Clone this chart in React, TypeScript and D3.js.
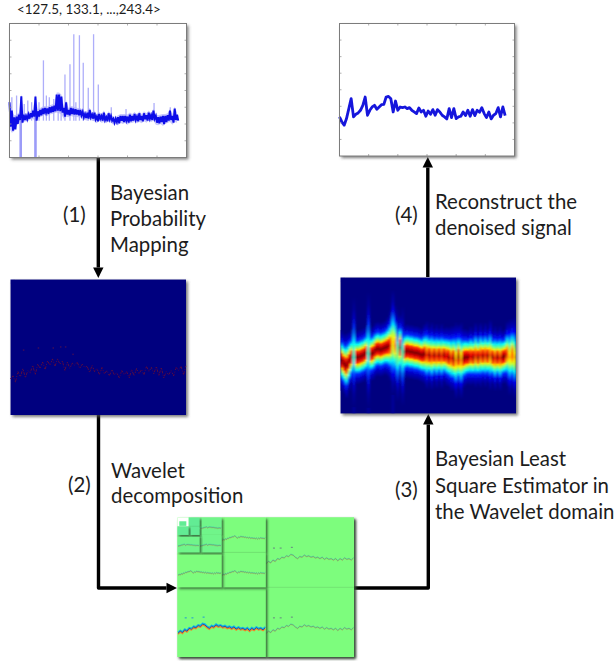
import React from 'react';
import * as d3 from 'd3';

// signal values, one every 8 samples
const sampleStep = 8;
const denoised = [118,103,93,113,143,173,118,126,130,138,153,178,123,138,148,153,141,148,155,156,178,180,173,133,166,138,148,146,148,143,146,138,133,128,145,133,138,120,136,126,140,123,140,133,123,118,112,143,116,143,113,118,120,133,122,138,120,140,122,138,132,146,128,116,133,112,123,128,146,118,148,122];
const noisyHigh = [165,140,120,122,128,183,128,124,128,132,140,182,138,142,146,148,146,150,152,155,188,188,182,148,165,142,148,146,144,142,142,136,130,134,142,128,134,122,130,124,134,120,132,124,116,116,120,124,124,124,122,128,124,130,122,132,124,132,126,134,126,140,124,120,122,124,124,126,140,124,146,128];
const noisyLow = [92,80,84,100,112,104,112,114,116,120,122,110,122,126,130,134,130,134,136,138,140,138,134,122,128,126,130,128,128,126,126,120,118,116,120,116,114,108,116,110,112,108,114,110,104,106,102,110,106,110,104,108,110,112,108,112,108,114,110,116,112,116,104,102,106,100,106,110,112,104,112,110];

// outliers of the raw signal: sample, top value
const spikeSamples = [8,24,50,62,75,100,115,125,135,150,165,175,188,205,218,225,237,250,267,285,301,345,395,490,545];
const spikeTops = [180,185,160,170,165,165,290,185,180,175,185,170,248,278,368,165,365,283,208,368,218,150,145,163,150];
const dropSamples = [38,88];
const dropBottoms = [0,0];

const sampleTicks = [0,100,200,300,400,500,600];
const valueTicks = [0,50,100,150,200,250,300,350,400];

// stft style map, 128 bins, one column per signal value
const heatCenter = [50,47,45,49,53,58,53,53,54,55,57,60,56,57,60,61,60,61,62,63,64,67,64,55,62,54,58,59,58,58,57,57,56,55,56,55,55,54,55,54,55,54,55,54,53,52,52,50,53,50,52,53,53,54,53,55,53,55,54,55,54,55,53,52,53,52,53,54,56,53,56,53];
const heatSpread = [1.1,1.1,1.2,1.1,1,2,1,1,1,1,1,2.1,1,1,1,1,1,1,1,1.1,1.3,1.9,1.5,1.7,1.2,1.8,1,1,1,1,1,1,1,1,1.1,1.25,1.05,1.25,1,1.2,1,1.2,1,1.1,1.1,1.2,1.2,1.4,1.2,1.4,1.1,1.05,1,1.1,1,1.2,1,1.2,1,1.2,1,1.3,1,1.2,1,1.2,1,1,1.2,1.4,1.3,1.5];
const heatPeak = [1,1,1,1,1,0.42,1,1,1,1,1,0.42,1,1,1,1,1,1,1,1,0.92,0.66,0.8,0.5,1,0.45,1,1,1,1,1,1,1,1,1,0.85,1,0.85,1,0.85,1,0.85,1,0.9,1,0.85,1,0.75,1,0.75,1,1,1,0.9,1,0.85,1,0.85,1,0.85,1,0.8,1,0.85,1,0.85,1,1,0.85,0.7,0.85,0.7];
const heatProfileBins = [0,2.5,5,7,9,12,16,20,26];
const heatProfileLevel = [1,0.93,0.84,0.68,0.52,0.36,0.15,0.06,0];
const heatTrailColumns = [5,11,21];

// probability map, dark red trace on a navy ground
const probTrace = [34,37,31,41,36,44,35,42,40,47,38,48,44,50,43,51,47,53,46,53,48,51,42,50,44,49,47,50,44,48,45,46,40,47,41,44,38,45,39,42,37,43,38,40,35,42,38,41,35,43,37,44,39,43,38,46,41,45,39,46,37,45,35,41,38,42,37,45,42,46,38,47];
const probDotColumns = [5,11,17,20,22,25];
const probDotBins = [62,64,64,65,65,58];

// wavelet subbands
const waveletTrace = [34,37,35,39,37,41,40,43,42,45,44,47,46,43,41,44,43,46,44,45,43,44,42,43,41,43,40,42,40,41,39,41,38,41,39,42,40,41,39,42];
const waveletDotIndex = [3,6,11];
const waveletDotValues = [57,57,58];
const waveletLevels = [1,2,3,4];

const jetStops = [0,0.11,0.35,0.5,0.65,0.89,1];
const jetColors = ['#00007f','#0000ff','#00ffff','#7fff7f','#ffff00','#ff0000','#7f0000'];

const jet = d3.scaleLinear<string>().domain(jetStops).range(jetColors).clamp(true);

const FONT = 'Lato, sans-serif';

function PlotFrame({ x, y }: { x: d3.ScaleLinear<number, number>; y: d3.ScaleLinear<number, number> }) {
    const [x0, x1] = x.range();
    const [y0, y1] = y.range();
    return (
        <g stroke="#9a9a9a" strokeWidth={0.8}>
            {sampleTicks.slice(1, -1).map(t => (
                <g key={t}>
                    <line x1={x(t)} x2={x(t)} y1={y0} y2={y0 - 2} />
                    <line x1={x(t)} x2={x(t)} y1={y1} y2={y1 + 2} />
                </g>
            ))}
            {valueTicks.slice(1, -1).map(t => (
                <g key={t}>
                    <line x1={x0} x2={x0 + 2} y1={y(t)} y2={y(t)} />
                    <line x1={x1} x2={x1 - 2} y1={y(t)} y2={y(t)} />
                </g>
            ))}
            <rect x={x0} y={y1} width={x1 - x0} height={y0 - y1} fill="none" stroke="#7c7c7c" strokeWidth={1} />
        </g>
    );
}

function NoisyPlot() {
    const x = d3.scaleLinear().domain([0, 600]).range([9.5, 186.5]);
    const y = d3.scaleLinear().domain([0, 400]).range([157.5, 23.5]);
    const band = d3.area<number>()
        .x((_, i) => x(i * sampleStep))
        .y0((_, i) => y(noisyLow[i] - 6))
        .y1(d => y(d + 6));
    // dark trace swings between the low and high reading of each step
    const swing = noisyHigh.flatMap((h, i) => [[i * sampleStep, h], [i * sampleStep + sampleStep / 2, noisyLow[i]]]);
    const trace = d3.line<number[]>()
        .x(d => x(d[0]))
        .y(d => y(d[1]));
    return (
        <g>
            <rect x={9.5} y={23.5} width={177} height={134} fill="#fff" filter="url(#shadow)" />
            <g filter="url(#soft)">
                <path d={band(noisyHigh) || ''} fill="#c8c8fc" />
                {spikeSamples.map((s, i) => (
                    <line key={s} x1={x(s)} x2={x(s)} y1={y(110)} y2={y(spikeTops[i])} stroke="#aeaefa" strokeWidth={1.3} />
                ))}
                {dropSamples.map((s, i) => (
                    <line key={s} x1={x(s)} x2={x(s)} y1={y(125)} y2={y(dropBottoms[i])} stroke="#9c9cf8" strokeWidth={2.6} />
                ))}
                <path d={trace(swing) || ''} fill="none" stroke="#1010e8" strokeWidth={2} />
            </g>
            <PlotFrame x={x} y={y} />
        </g>
    );
}

function DenoisedPlot() {
    const x = d3.scaleLinear().domain([0, 600]).range([339.5, 514.5]);
    const y = d3.scaleLinear().domain([0, 400]).range([156, 23.5]);
    const line = d3.line<number>()
        .x((_, i) => x(i * sampleStep))
        .y(d => y(d));
    return (
        <g>
            <rect x={339.5} y={23.5} width={175} height={132.5} fill="#fff" filter="url(#shadow)" />
            <path d={line(denoised) || ''} fill="none" stroke="#1414dc" strokeWidth={2.8} strokeLinejoin="round" filter="url(#soft)" />
            <PlotFrame x={x} y={y} />
        </g>
    );
}

function ProbabilityMap() {
    const x = d3.scaleLinear().domain([0, denoised.length - 1]).range([10.5, 186]);
    const y = d3.scaleLinear().domain([0, 128]).range([415, 279.5]);
    const line = d3.line<number>()
        .x((_, i) => x(i))
        .y(d => y(d));
    return (
        <g>
            <rect x={10.5} y={279.5} width={175.5} height={135.5} fill="#00007f" filter="url(#shadow)" />
            <path d={line(probTrace) || ''} fill="none" stroke="#5e0c3c" strokeWidth={0.9} strokeDasharray="1.6 0.8 3 1.4 1 1.6" filter="url(#soft)" />
            {probDotColumns.map((c, i) => (
                <rect key={c} x={x(c)} y={y(probDotBins[i])} width={1.5} height={1.5} fill="#3c0c5c" />
            ))}
        </g>
    );
}

function HeatMap() {
    const x = d3.scaleBand<number>().domain(d3.range(heatCenter.length)).range([340.5, 516]);
    const y = d3.scaleLinear().domain([0, 128]).range([413.5, 277.5]);
    const last = heatProfileBins.length - 1;
    const reach = heatProfileBins[last];
    return (
        <g>
            <defs>
                <clipPath id="heat-clip">
                    <rect x={340.5} y={277.5} width={175.5} height={136} />
                </clipPath>
                {heatCenter.map((c, i) => {
                    const stops = d3.range(-last, last + 1).map(k => {
                        const bin = heatProfileBins[Math.abs(k)];
                        const offset = (Math.sign(k) * bin + reach) / (2 * reach);
                        return { offset, color: jet(heatProfileLevel[Math.abs(k)] * heatPeak[i]) };
                    });
                    return (
                        <linearGradient key={i} id={'heat-' + i} gradientUnits="userSpaceOnUse" x1={0} x2={0}
                            y1={y(c - reach * heatSpread[i])} y2={y(c + reach * heatSpread[i])}>
                            {stops.map((s, k) => <stop key={k} offset={s.offset} stopColor={s.color} />)}
                        </linearGradient>
                    );
                })}
            </defs>
            <rect x={340.5} y={277.5} width={175.5} height={136} fill="#00007f" filter="url(#shadow)" />
            <g clipPath="url(#heat-clip)">
                <g filter="url(#smear)">
                    {heatTrailColumns.map(c => (
                        <rect key={c} x={x(c)} y={y(30)} width={x.bandwidth()} height={y(0) - y(30)} fill="#00009c" />
                    ))}
                    {heatCenter.map((c, i) => (
                        <rect key={i} x={(x(i) as number) - 0.2} width={x.bandwidth() + 0.4}
                            y={y(c + reach * heatSpread[i])} height={y(c - reach * heatSpread[i]) - y(c + reach * heatSpread[i])}
                            fill={'url(#heat-' + i + ')'} />
                    ))}
                </g>
            </g>
        </g>
    );
}

function WaveletBand({ box, gain, fill, dots }: { box: number[]; gain: number; fill: string; dots: boolean }) {
    const [bx, by, bw, bh] = box;
    const x = d3.scaleLinear().domain([0, waveletTrace.length - 1]).range([bx + 0.5, bx + bw - 0.5]);
    const y = d3.scaleLinear().domain([0, 100]).range([by + bh, by]);
    const line = d3.line<number>()
        .x((_, i) => x(i))
        .y(d => y(d));
    const path = line(waveletTrace) || '';
    const strong = gain > 0.8;
    const lift = strong ? 1 : 0.5;
    return (
        <g>
            <rect x={bx} y={by} width={bw} height={bh} fill={fill} filter="url(#shadow-dark)" />
            {gain > 0 && (
                <g filter="url(#soft)" fill="none">
                    <path d={path} stroke="#10b8e8" strokeWidth={strong ? 1.3 : 0.6} strokeOpacity={gain} transform={'translate(0,' + -lift + ')'} />
                    <path d={path} stroke="#f08828" strokeWidth={strong ? 1.3 : 0.6} strokeOpacity={gain} transform={'translate(0,' + lift + ')'} />
                    <path d={path} stroke={strong ? '#1828a0' : '#5a6a70'} strokeWidth={strong ? 0.9 : 0.6} strokeOpacity={strong ? 0.85 : 0.75} />
                </g>
            )}
            {dots && waveletDotIndex.map((d, i) => (
                <rect key={d} x={x(d)} y={y(waveletDotValues[i])} width={2} height={1.2}
                    fill={strong ? '#30a8c8' : '#6a9a80'} />
            ))}
        </g>
    );
}

function WaveletPanel() {
    const x = d3.scaleLinear().domain([0, 1]).range([177.5, 354]);
    const y = d3.scaleLinear().domain([0, 1]).range([517.5, 657]);
    const fills = ['#7dfd7d', '#7dfd7d', '#70f58a', '#62ec94'];
    return (
        <g>
            <rect x={177.5} y={517.5} width={176.5} height={139.5} fill="#7dfd7d" filter="url(#shadow)" />
            {waveletLevels.map(level => {
                const s = Math.pow(0.5, level);
                // detail bands of this level, largest level is painted first
                const cells = [[s, 0, 0.4], [s, s, 0.4], [0, s, level === 1 ? 1 : 0.4]];
                return cells.map(([cx, cy, gain]) => (
                    <WaveletBand key={level + '-' + cx + '-' + cy}
                        box={[x(cx), y(cy), x(s) - x(0), y(s) - y(0)]}
                        gain={level === 4 ? 0 : gain} fill={fills[level - 1]} dots={level === 1} />
                ));
            })}
            <rect x={x(0)} y={y(0)} width={x(1 / 16) - x(0)} height={y(1 / 16) - y(0)} fill="#fff" />
            <rect x={x(0.01)} y={y(0.027)} width={x(0.05) - x(0.01)} height={y(0.06) - y(0.027)} fill="#62ec94" />
        </g>
    );
}

function Arrow({ points }: { points: [number, number][] }) {
    // head is laid on the last segment
    const n = points.length;
    const [tx, ty] = points[n - 1];
    const [px, py] = points[n - 2];
    const len = Math.hypot(tx - px, ty - py);
    const ux = (tx - px) / len;
    const uy = (ty - py) / len;
    const bx = tx - ux * 10.5;
    const by = ty - uy * 10.5;
    const shaft = points.slice(0, -1).concat([[bx, by]]);
    const line = d3.line();
    const head: [number, number][] = [[tx, ty], [bx - uy * 5.2, by + ux * 5.2], [bx + uy * 5.2, by - ux * 5.2]];
    return (
        <g>
            <path d={line(shaft) || ''} fill="none" stroke="#000" strokeWidth={3.4} strokeLinejoin="round" />
            <path d={(line(head) || '') + 'Z'} fill="#000" />
        </g>
    );
}

function Label({ x, y, text, size = 20.4 }: { x: number; y: number; text: string; size?: number }) {
    return <text x={x} y={y} fontFamily={FONT} fontSize={size} fill="#1c1c1c">{text}</text>;
}

export default function App() {
    return (
        <svg width={615} height={661} style={{ position: 'absolute', left: 0, top: 0, background: '#fff' }}>
            <defs>
                <filter id="shadow" x="-5%" y="-5%" width="112%" height="112%">
                    <feDropShadow dx={2} dy={2} stdDeviation={1.4} floodColor="#555" floodOpacity={0.75} />
                </filter>
                <filter id="shadow-dark" x="-10%" y="-10%" width="125%" height="125%">
                    <feDropShadow dx={1.6} dy={1.6} stdDeviation={1} floodColor="#2a4a2a" floodOpacity={0.85} />
                </filter>
                <filter id="soft" x="-5%" y="-5%" width="110%" height="110%">
                    <feGaussianBlur stdDeviation={0.4} />
                </filter>
                <filter id="smear" x="-5%" y="-5%" width="110%" height="110%">
                    <feGaussianBlur stdDeviation="0.9 0.3" />
                </filter>
            </defs>

            <Label x={17} y={14} text="<127.5, 133.1, ...,243.4>" size={13.4} />

            <Arrow points={[[98.3, 158], [98.3, 278]]} />
            <Arrow points={[[98.5, 415], [98.5, 588], [177, 588]]} />
            <Arrow points={[[354, 588], [428.3, 588], [428.3, 414]]} />
            <Arrow points={[[427.8, 277], [427.8, 157]]} />

            <NoisyPlot />
            <DenoisedPlot />
            <ProbabilityMap />
            <HeatMap />
            <WaveletPanel />

            <Label x={63} y={222} text="(1)" />
            <Label x={110} y={200} text="Bayesian" />
            <Label x={110} y={226} text="Probability" />
            <Label x={110} y={252} text="Mapping" />

            <Label x={68} y={492} text="(2)" />
            <Label x={111} y={478} text="Wavelet" />
            <Label x={111} y={503} text="decomposition" />

            <Label x={395} y={497} text="(3)" />
            <Label x={435} y={466} text="Bayesian Least" />
            <Label x={435} y={493} text="Square Estimator in" />
            <Label x={435} y={519} text="the Wavelet domain" />

            <Label x={395} y={222} text="(4)" />
            <Label x={435} y={209} text="Reconstruct the" />
            <Label x={435} y={235} text="denoised signal" />
        </svg>
    );
}
